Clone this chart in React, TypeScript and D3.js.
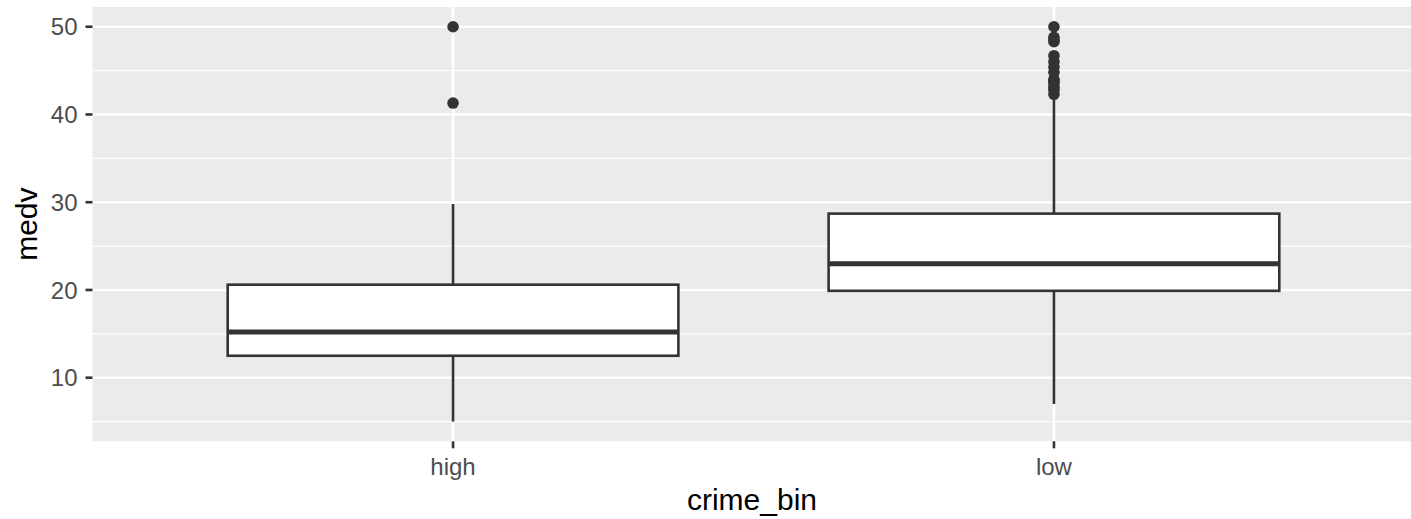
import React from "react";
import * as d3 from "d3";

const categories = ["high", "low"];
const whiskerLow = [5.0, 7.0];
const q1 = [12.5, 19.9];
const median = [15.2, 23.0];
const q3 = [20.6, 28.7];
const whiskerHigh = [29.8, 41.7];
const outliersHigh = [50, 41.3];
const outliersLow = [42.3, 42.8, 43.1, 43.5, 43.8, 44.0, 44.8, 45.4, 46.0, 46.7, 48.3, 48.5, 48.8, 50];
const outliers = [outliersHigh, outliersLow];
const yTicks = [10, 20, 30, 40, 50];
const yMinor = [5, 15, 25, 35, 45];

const W = 1411;
const H = 519;
const panel = { left: 92.5, right: 1414.5, top: 7, bottom: 441.3 };
const FONT = "'Liberation Sans', Arial, sans-serif";

export default function App() {
  const x = d3.scaleLinear().domain([0.4, 2.6]).range([panel.left, panel.right]);
  const y = d3.scaleLinear().domain([2.75, 52.25]).range([panel.bottom, panel.top]);
  const unit = x(2) - x(1);
  const boxW = 0.75 * unit;
  const dark = "#333333";

  return (
    <svg width={W} height={H} style={{ display: "block", position: "absolute", left: 0, top: 0 }}>
      <rect x={0} y={0} width={W} height={H} fill="#ffffff" />
      <rect x={panel.left} y={panel.top} width={panel.right - panel.left} height={panel.bottom - panel.top} fill="#EBEBEB" />
      {yMinor.map((v) => (
        <line key={"mn" + v} x1={panel.left} x2={panel.right} y1={y(v)} y2={y(v)} stroke="#ffffff" strokeWidth={1.3} />
      ))}
      {yTicks.map((v) => (
        <line key={"mj" + v} x1={panel.left} x2={panel.right} y1={y(v)} y2={y(v)} stroke="#ffffff" strokeWidth={2.6} />
      ))}
      {categories.map((c, i) => (
        <line key={"vx" + c} x1={x(i + 1)} x2={x(i + 1)} y1={panel.top} y2={panel.bottom} stroke="#ffffff" strokeWidth={2.6} />
      ))}
      {categories.map((c, i) => {
        const cx = x(i + 1);
        return (
          <g key={"box" + c}>
            <line x1={cx} x2={cx} y1={y(q3[i])} y2={y(whiskerHigh[i])} stroke={dark} strokeWidth={2.6} />
            <line x1={cx} x2={cx} y1={y(q1[i])} y2={y(whiskerLow[i])} stroke={dark} strokeWidth={2.6} />
            <rect x={cx - boxW / 2} y={y(q3[i])} width={boxW} height={y(q1[i]) - y(q3[i])} fill="#ffffff" stroke={dark} strokeWidth={2.6} />
            <line x1={cx - boxW / 2} x2={cx + boxW / 2} y1={y(median[i])} y2={y(median[i])} stroke={dark} strokeWidth={5} />
            {outliers[i].map((v, j) => (
              <circle key={j} cx={cx} cy={y(v)} r={5.8} fill={dark} />
            ))}
          </g>
        );
      })}
      {yTicks.map((v) => (
        <g key={"yt" + v}>
          <line x1={panel.left - 7} x2={panel.left} y1={y(v)} y2={y(v)} stroke={dark} strokeWidth={2.6} />
          <text x={panel.left - 15} y={y(v)} dy="0.36em" textAnchor="end" fontFamily={FONT} fontSize={24} fill="#4D4D4D">
            {v}
          </text>
        </g>
      ))}
      {categories.map((c, i) => (
        <g key={"xt" + c}>
          <line x1={x(i + 1)} x2={x(i + 1)} y1={panel.bottom} y2={panel.bottom + 7} stroke={dark} strokeWidth={2.6} />
          <text x={x(i + 1)} y={475} textAnchor="middle" fontFamily={FONT} fontSize={24} fill="#4D4D4D">
            {c}
          </text>
        </g>
      ))}
      <text x={752} y={510} textAnchor="middle" fontFamily={FONT} fontSize={30} fill="#000000">
        crime_bin
      </text>
      <text
        transform={`translate(37, ${(panel.top + panel.bottom) / 2}) rotate(-90)`}
        textAnchor="middle"
        fontFamily={FONT}
        fontSize={30}
        fill="#000000"
      >
        medv
      </text>
    </svg>
  );
}
